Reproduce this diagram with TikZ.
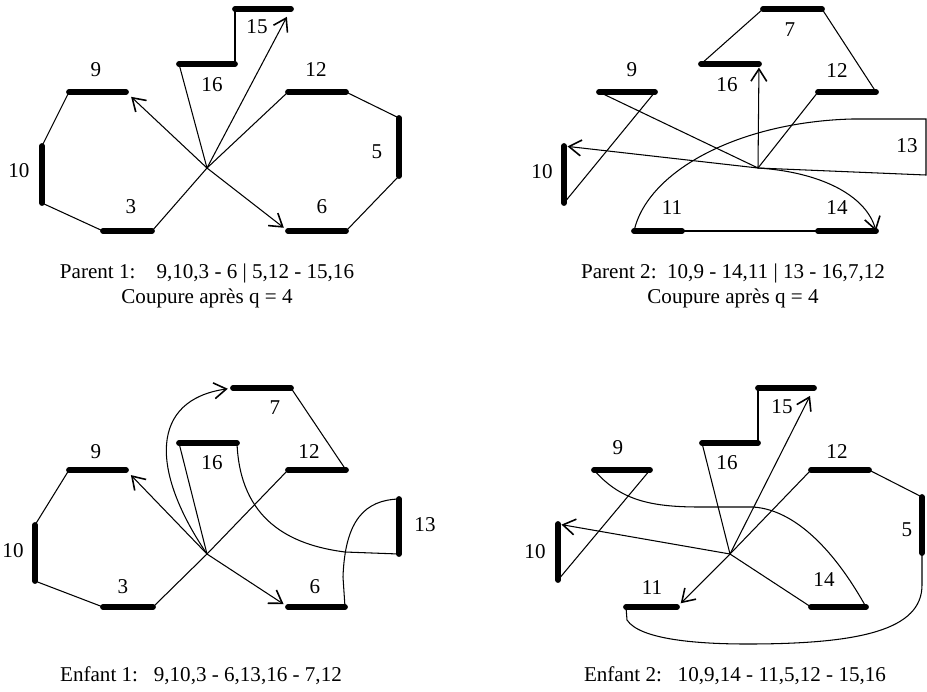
\documentclass[tikz,border=0pt]{standalone}
\usepackage{fontspec}
\setmainfont{Liberation Serif}
\usetikzlibrary{arrows.meta}
\tikzstyle{bar} = [line width=3.3pt, line cap=round]
\tikzstyle{link} = [line width=0.6pt]
\tikzstyle{arc} = [line width=0.6pt, -{Straight Barb[length=7pt,width=9pt,line width=0.9pt]}]
\tikzstyle{num} = [font=\fontsize{12}{14}\selectfont, inner sep=0pt]
\tikzstyle{legend} = [font=\fontsize{12}{14}\selectfont, inner sep=0pt, anchor=base]

\begin{document}
\begin{tikzpicture}[x=0.02cm, y=-0.02cm]
\useasboundingbox (0,0) rectangle (927,691);

\coordinate (a15l) at (235,9);   \coordinate (a15r) at (291,9);
\coordinate (a16l) at (179,64);  \coordinate (a16r) at (235,64);
\coordinate (a9l) at (69,92);    \coordinate (a9r) at (126,92);
\coordinate (a12l) at (288,92);  \coordinate (a12r) at (346,92);
\coordinate (a10t) at (42,146);  \coordinate (a10b) at (42,203);
\coordinate (a5t) at (399,118);  \coordinate (a5b) at (399,176);
\coordinate (a3l) at (103,231);  \coordinate (a3r) at (152,231);
\coordinate (a6l) at (288,231);  \coordinate (a6r) at (346,231);
\coordinate (ac) at (207,168);
\foreach \s in {15,16,9,12,3,6} \draw [bar] (a\s l) -- (a\s r);
\foreach \s in {10,5} \draw [bar] (a\s t) -- (a\s b);
\draw [link] (a9l) -- (a10t);
\draw [link] (a10b) -- (a3l);
\draw [link] (a3r) -- (ac) -- (a12l);
\draw [link] (a12r) -- (a5t);
\draw [link] (a5b) -- (a6r);
\draw [link] (a16l) -- (ac);
\draw [link] (a16r) -- (a15l);
\draw [arc, shorten >=4pt] (ac) -- (a9r);
\draw [arc, shorten >=3pt] (ac) -- (a6l);
\draw [arc, shorten >=5pt] (ac) -- (a15r);
\node [num] (a9n) at (96,70) {9};
\node [num] (a15n) at (257,27) {15};
\node [num] (a16n) at (212,85) {16};
\node [num] (a12n) at (316,70) {12};
\node [num] (a10n) at (19,171) {10};
\node [num] (a5n) at (377,152) {5};
\node [num] (a3n) at (131,207) {3};
\node [num] (a6n) at (322,207) {6};

\coordinate (b7l) at (763,9);    \coordinate (b7r) at (822,9);
\coordinate (b16l) at (701,64);  \coordinate (b16r) at (759,64);
\coordinate (b9l) at (599,92);   \coordinate (b9r) at (655,92);
\coordinate (b12l) at (818,92);  \coordinate (b12r) at (876,92);
\coordinate (b10t) at (564,146); \coordinate (b10b) at (564,203);
\coordinate (b11l) at (634,231); \coordinate (b11r) at (682,231);
\coordinate (b14l) at (818,231); \coordinate (b14r) at (876,231);
\coordinate (b13t) at (926,119); \coordinate (b13b) at (926,175);
\coordinate (bc) at (758,168);
\foreach \s in {7,16,9,12,11,14} \draw [bar] (b\s l) -- (b\s r);
\draw [bar] (b10t) -- (b10b);
\draw [link] (b9r) -- (b10b);
\draw [link] (b9l) -- (bc);
\draw [arc] (bc) .. controls (820,172) and (866,195) .. (b14r);
\draw [link] (b14l) -- (b11r);
\draw [link] (b11l) .. controls (648,170) and (740,122) .. (852,119) -- (b13t) -- (b13b) -- (bc);
\draw [arc, shorten >=2pt] (bc) -- (b16r);
\draw [link] (b16l) -- (b7l);
\draw [link] (b7r) -- (b12r);
\draw [link] (b12l) -- (bc);
\draw [arc, shorten >=2pt] (bc) -- (b10t);
\node [num] (b9n) at (632,70) {9};
\node [num] (b7n) at (790,30) {7};
\node [num] (b16n) at (727,85) {16};
\node [num] (b12n) at (837,71) {12};
\node [num] (b13n) at (907,146) {13};
\node [num] (b10n) at (542,172) {10};
\node [num] (b11n) at (672,208) {11};
\node [num] (b14n) at (837,208) {14};

\coordinate (c7l) at (233,388);  \coordinate (c7r) at (291,388);
\coordinate (c16l) at (179,443); \coordinate (c16r) at (237,443);
\coordinate (c9l) at (69,470);   \coordinate (c9r) at (126,470);
\coordinate (c12l) at (288,470); \coordinate (c12r) at (346,470);
\coordinate (c10t) at (35,525);  \coordinate (c10b) at (35,581);
\coordinate (c13t) at (399,499); \coordinate (c13b) at (399,554);
\coordinate (c3l) at (103,607);  \coordinate (c3r) at (153,607);
\coordinate (c6l) at (288,607);  \coordinate (c6r) at (345,607);
\coordinate (cc) at (207,554);
\foreach \s in {7,16,9,12,3,6} \draw [bar] (c\s l) -- (c\s r);
\foreach \s in {10,13} \draw [bar] (c\s t) -- (c\s b);
\draw [link] (c9l) -- (c10t);
\draw [link] (c10b) -- (c3l);
\draw [link] (c3r) -- (cc) -- (c12l);
\draw [link] (c16l) -- (cc);
\draw [link] (c7r) -- (c12r);
\draw [arc, shorten >=4pt] (cc) -- (c9r);
\draw [arc, shorten >=3pt] (cc) -- (c6l);
\draw [arc, shorten >=3pt] (cc) .. controls (150,470) and (150,400) .. (c7l);
\draw [link] (c16r) .. controls (240,520) and (290,545) .. (345,552) -- (c13b);
\draw [link] (c6r) -- (343,577) .. controls (345,520) and (365,500) .. (c13t);
\node [num] (c9n) at (96,452) {9};
\node [num] (c7n) at (275,408) {7};
\node [num] (c16n) at (212,463) {16};
\node [num] (c12n) at (309,452) {12};
\node [num] (c10n) at (13,551) {10};
\node [num] (c13n) at (425,525) {13};
\node [num] (c3n) at (123,587) {3};
\node [num] (c6n) at (315,587) {6};

\coordinate (d15l) at (758,388); \coordinate (d15r) at (814,388);
\coordinate (d16l) at (702,443); \coordinate (d16r) at (758,443);
\coordinate (d9l) at (594,470);  \coordinate (d9r) at (650,470);
\coordinate (d12l) at (811,470); \coordinate (d12r) at (869,470);
\coordinate (d10t) at (558,524); \coordinate (d10b) at (558,580);
\coordinate (d5t) at (922,497);  \coordinate (d5b) at (922,553);
\coordinate (d11l) at (626,607); \coordinate (d11r) at (677,607);
\coordinate (d14l) at (811,607); \coordinate (d14r) at (866,607);
\coordinate (dc) at (730,554);
\foreach \s in {15,16,9,12,11,14} \draw [bar] (d\s l) -- (d\s r);
\foreach \s in {10,5} \draw [bar] (d\s t) -- (d\s b);
\draw [link] (d9r) -- (d10b);
\draw [link] (d9l) .. controls (620,500) and (650,507) .. (700,507) -- (753,507) .. controls (800,510) and (840,560) .. (d14r);
\draw [link] (d14l) -- (dc);
\draw [arc, shorten >=3pt] (dc) -- (d11r);
\draw [link] (d11l) -- (627,620) .. controls (640,640) and (700,644) .. (747,644) .. controls (860,644) and (922,630) .. (922,585) -- (d5b);
\draw [link] (d5t) -- (d12r);
\draw [link] (d12l) -- (dc);
\draw [arc, shorten >=5pt] (dc) -- (d15r);
\draw [link] (d15l) -- (d16r);
\draw [link] (d16l) -- (dc);
\draw [arc, shorten >=2pt] (dc) -- (d10t);
\node [num] (d15n) at (782,407) {15};
\node [num] (d9n) at (618,448) {9};
\node [num] (d16n) at (727,463) {16};
\node [num] (d12n) at (837,452) {12};
\node [num] (d10n) at (535,552) {10};
\node [num] (d5n) at (907,530) {5};
\node [num] (d11n) at (652,588) {11};
\node [num] (d14n) at (824,580) {14};

\node [legend] (p1) at (207,278) {Parent 1:\quad 9,10,3 - 6 | 5,12 - 15,16};
\node [legend] (p1cut) at (207,303) {Coupure après q = 4};
\node [legend] (p2) at (733,278) {Parent 2:\ \ 10,9 - 14,11 | 13 - 16,7,12};
\node [legend] (p2cut) at (733,303) {Coupure après q = 4};
\node [legend] (e1) at (201,681) {Enfant 1:\ \ \ 9,10,3 - 6,13,16 - 7,12};
\node [legend] (e2) at (735,681) {Enfant 2:\ \ \ 10,9,14 - 11,5,12 - 15,16};
\end{tikzpicture}
\end{document}
